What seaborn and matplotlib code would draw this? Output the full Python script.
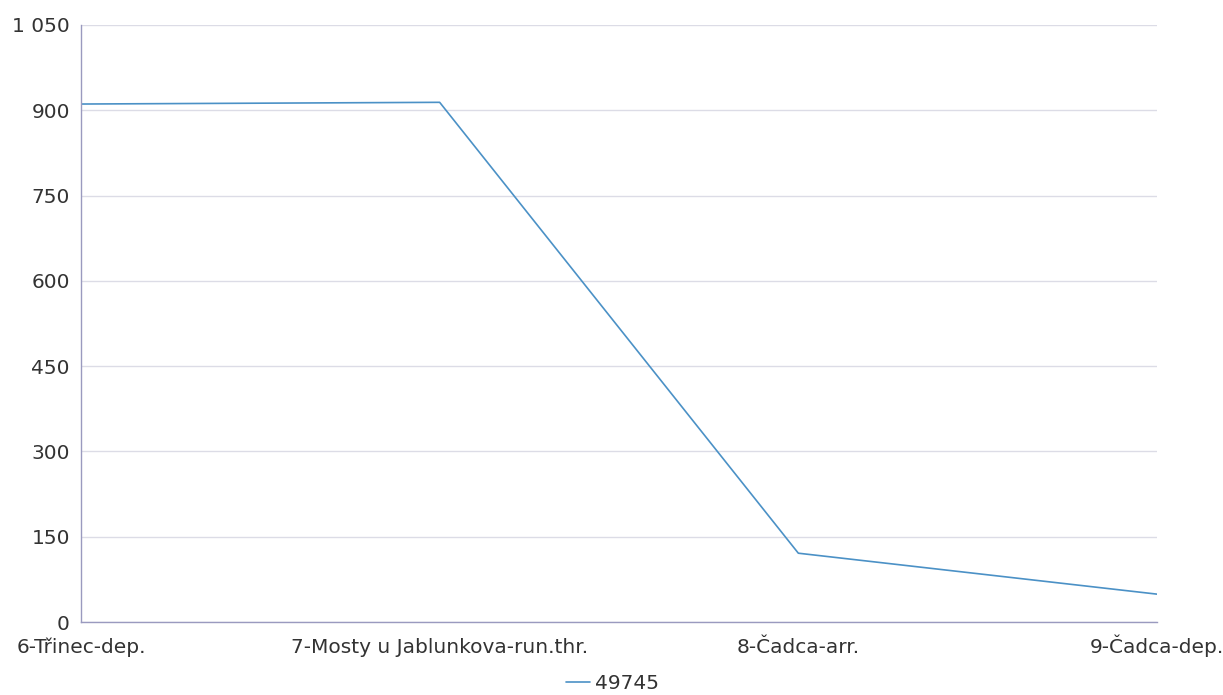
import unicodedata
import pandas as pd
import matplotlib
matplotlib.use("Agg")
import matplotlib.pyplot as plt
from matplotlib.ticker import FuncFormatter, MultipleLocator
import seaborn as sns

stations = ["6-Třinec-dep.", "7-Mosty u Jablunkova-run.thr.", "8-Čadca-arr.", "9-Čadca-dep."]
stations = [unicodedata.normalize("NFC", s) for s in stations]
values = [911, 914, 121, 49]
series_name = "49745"

df = pd.DataFrame({"station": stations, "value": values, "train": series_name})
df["pos"] = range(len(stations))

sns.set_theme(style="white")
plt.rcParams["font.family"] = ["DejaVu Sans"]

fig = plt.figure(figsize=(12.23, 6.95), dpi=100)
ax = fig.add_axes([81 / 1223, 1 - 622 / 695, (1157 - 81) / 1223, (622 - 25) / 695])

sns.lineplot(data=df, x="pos", y="value", hue="train", palette=["#4b91c6"],
             linewidth=1.2, ax=ax, legend=True)

ax.set_xlim(0, len(stations) - 1)
ax.set_ylim(0, 1050)
ax.yaxis.set_major_locator(MultipleLocator(150))
ax.yaxis.set_major_formatter(FuncFormatter(lambda v, p: f"{int(v):,}".replace(",", " ")))
ax.set_xticks(df["pos"])
ax.set_xticklabels(stations)
ax.set_xlabel("")
ax.set_ylabel("")

ax.grid(axis="y", color="#dcdce6", linewidth=1)
ax.set_axisbelow(True)
for side in ["top", "right"]:
    ax.spines[side].set_visible(False)
for side in ["left", "bottom"]:
    ax.spines[side].set_color("#9a9abf")
    ax.spines[side].set_linewidth(1)
ax.tick_params(axis="both", length=0, labelsize=14.5, colors="#333333")
ax.tick_params(axis="y", pad=8)
# baseline alignment keeps the accented labels on one line
ax.tick_params(axis="x", pad=22)
for lbl in ax.get_xticklabels():
    lbl.set_verticalalignment("baseline")

handles, labels = ax.get_legend_handles_labels()
ax.legend_.remove()
leg = fig.legend(handles, labels, loc="center", bbox_to_anchor=(0.501, 0.016),
                 frameon=False, fontsize=14.5, handlelength=1.2, handletextpad=0.25,
                 borderpad=0)
for t in leg.get_texts():
    t.set_color("#333333")

fig.savefig("out.png", dpi=100)
